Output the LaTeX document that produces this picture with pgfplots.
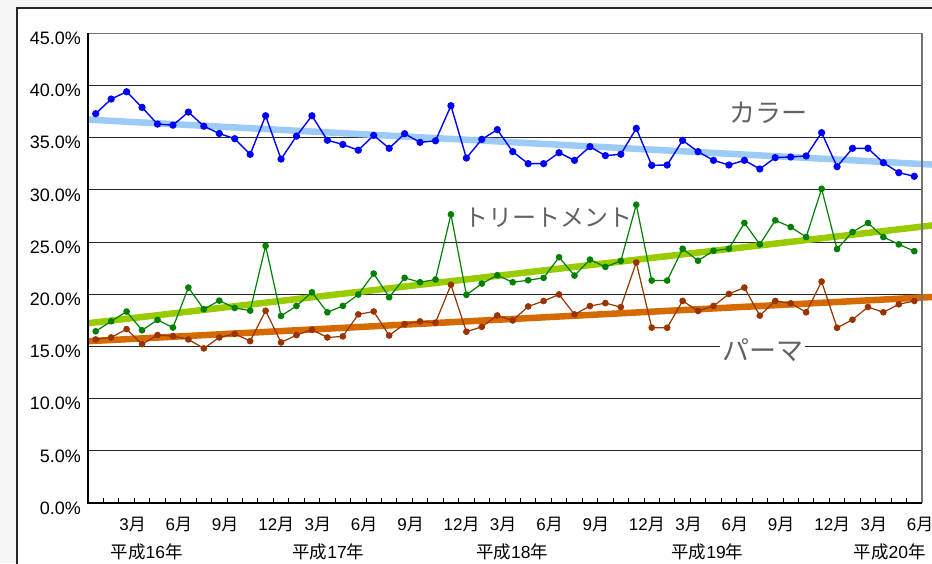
\documentclass[border=0pt]{standalone}
\usepackage{fontspec}
\setmainfont{Liberation Sans}
\newfontfamily\cjk{Noto Sans CJK JP}
\usepackage{pgfplots}
\pgfplotsset{compat=1.18}
\newcommand\J[1]{{\cjk #1}}
\definecolor{cblue}{HTML}{0000FF}
\definecolor{cbluet}{HTML}{9CCBFA}
\definecolor{cgreen}{HTML}{008000}
\definecolor{cgreent}{HTML}{99CC00}
\definecolor{cbrown}{HTML}{993300}
\definecolor{corange}{HTML}{D46A00}
\definecolor{lbl}{HTML}{626262}
\begin{document}
\begin{tikzpicture}
\path[use as bounding box, fill={rgb,255:red,245;green,245;blue,245}] (-88pt,-60pt) rectangle (844pt,503pt);
\fill[white] (-71pt,-60pt) rectangle (844pt,495pt);
\draw[black!85, line width=1.6pt] (-71pt,-61pt) -- (-71pt,495pt) -- (845pt,495pt);
\begin{axis}[
  at={(0pt,0pt)}, anchor=south west,
  scale only axis, width=834pt, height=469.7pt,
  xmin=-0.5, xmax=53.5, ymin=0, ymax=45,
  clip=false,
  axis line style={draw=none},
  ytick={0,5,...,45},
  yticklabels={0.0\%,5.0\%,10.0\%,15.0\%,20.0\%,25.0\%,30.0\%,35.0\%,40.0\%,45.0\%},
  yticklabel style={font=\fontsize{18}{20}\selectfont, anchor=east, inner sep=0pt, xshift=-7pt, yshift=-5pt},
  xtick={2,5,...,53},
  xticklabels={3\J{月},6\J{月},9\J{月},12\J{月},3\J{月},6\J{月},9\J{月},12\J{月},3\J{月},6\J{月},9\J{月},12\J{月},3\J{月},6\J{月},9\J{月},12\J{月},3\J{月},6\J{月}},
  xticklabel style={font=\fontsize{17}{19}\selectfont, anchor=north west, inner sep=0pt, xshift=-7.5pt, yshift=-14pt},
  minor xtick={-0.5,0.5,...,53.5},
  xtick pos=bottom, ytick pos=left,
  tick align=inside,
  major tick length=0pt, minor tick length=5pt,
  minor x tick style={black, line width=0.8pt},
  ymajorgrids=true,
  major grid style={black!85, line width=0.8pt},
]
% trend lines
\addplot[cbluet, line width=6.5pt, no marks] coordinates {(-0.5,36.73) (54.2,32.42)};
\addplot[cgreent, line width=6.5pt, no marks] coordinates {(-0.5,17.22) (54.2,26.6)};
\addplot[corange, line width=6.5pt, no marks] coordinates {(-0.5,15.50) (54.2,19.74)};
% series
\addplot[cblue, line width=1.4pt, mark=*, mark size=2.9pt, mark options={fill=cblue, draw=cblue}] table {
0 37.3
1 38.7
2 39.4
3 37.9
4 36.3
5 36.2
6 37.45
7 36.1
8 35.4
9 34.9
10 33.4
11 37.1
12 32.95
13 35.15
14 37.1
15 34.75
16 34.35
17 33.8
18 35.22
19 33.98
20 35.38
21 34.55
22 34.7
23 38.06
24 33.05
25 34.84
26 35.77
27 33.66
28 32.51
29 32.51
30 33.56
31 32.83
32 34.14
33 33.28
34 33.41
35 35.89
36 32.35
37 32.38
38 34.74
39 33.66
40 32.83
41 32.38
42 32.83
43 32.0
44 33.09
45 33.15
46 33.25
47 35.48
48 32.22
49 33.98
50 33.98
51 32.6
52 31.65
53 31.3
};
\addplot[cgreen, line width=1.2pt, mark=*, mark size=2.7pt, mark options={fill=cgreen, draw=cgreen}] table {
0 16.45
1 17.41
2 18.34
3 16.55
4 17.54
5 16.81
6 20.64
7 18.56
8 19.39
9 18.69
10 18.43
11 24.63
12 17.92
13 18.88
14 20.19
15 18.27
16 18.88
17 19.97
18 21.98
19 19.71
20 21.57
21 21.15
22 21.41
23 27.65
24 19.94
25 21.02
26 21.82
27 21.15
28 21.34
29 21.57
30 23.55
31 21.79
32 23.32
33 22.62
34 23.19
35 28.58
36 21.31
37 21.31
38 24.36
39 23.21
40 24.17
41 24.36
42 26.83
43 24.78
44 27.08
45 26.44
46 25.48
47 30.1
48 24.33
49 25.96
50 26.83
51 25.48
52 24.78
53 24.13
};
\addplot[cbrown, line width=1.2pt, mark=*, mark size=2.7pt, mark options={fill=cbrown, draw=cbrown}] table {
0 15.67
1 15.86
2 16.66
3 15.22
4 16.09
5 15.99
6 15.67
7 14.81
8 15.86
9 16.21
10 15.51
11 18.42
12 15.38
13 16.09
14 16.6
15 15.86
16 15.96
17 18.07
18 18.35
19 16.05
20 17.14
21 17.4
22 17.27
23 20.91
24 16.41
25 16.88
26 17.97
27 17.49
28 18.83
29 19.35
30 19.98
31 18.07
32 18.87
33 19.15
34 18.77
35 23.05
36 16.8
37 16.79
38 19.36
39 18.4
40 18.88
41 20.03
42 20.64
43 17.95
44 19.36
45 19.13
46 18.27
47 21.22
48 16.79
49 17.56
50 18.78
51 18.27
52 19.04
53 19.36
};
% axis frame
\draw[black!55, line width=1.5pt] (rel axis cs:0,1) -- (rel axis cs:1,1) -- (rel axis cs:1,0);
\draw[black, line width=1.4pt] (rel axis cs:0,1) -- (rel axis cs:0,0) -- (rel axis cs:1,0);
% series labels
\node[lbl, font=\cjk\fontsize{26}{28}\selectfont] at (axis cs:43.55,37.36) {カラー};
\node[lbl, font=\cjk\fontsize{24}{26}\selectfont] at (axis cs:29.33,27.3) {トリートメント};
\node[lbl, fill=white, inner sep=2pt, font=\cjk\fontsize{27}{29}\selectfont] at (axis cs:43.2,14.65) {パーマ};
% year labels
\node[font=\fontsize{17.5}{19}\selectfont] at ([yshift=-48.7pt]axis cs:3.3,0) {\J{平成}16\J{年}};
\node[font=\fontsize{17.5}{19}\selectfont] at ([yshift=-48.7pt]axis cs:15.07,0) {\J{平成}17\J{年}};
\node[font=\fontsize{17.5}{19}\selectfont] at ([yshift=-48.7pt]axis cs:26.96,0) {\J{平成}18\J{年}};
\node[font=\fontsize{17.5}{19}\selectfont] at ([yshift=-48.7pt]axis cs:39.6,0) {\J{平成}19\J{年}};
\node[font=\fontsize{17.5}{19}\selectfont] at ([yshift=-48.7pt]axis cs:51.4,0) {\J{平成}20\J{年}};
\end{axis}
\end{tikzpicture}
\end{document}
